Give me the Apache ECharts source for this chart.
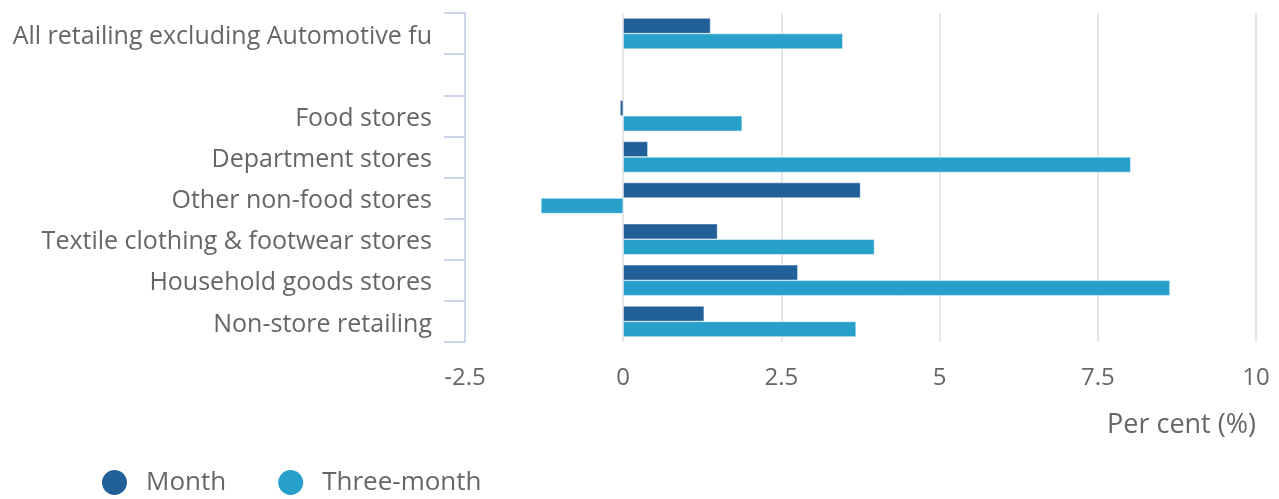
<!DOCTYPE html>
<html>
<head>
<meta charset="utf-8">
<script src="https://cdn.jsdelivr.net/npm/echarts@6/dist/echarts.min.js"></script>
<style>
html,body{margin:0;padding:0;background:#fff;}
#chart{width:1279px;height:499px;}
</style>
</head>
<body>
<div id="chart"></div>
<script>
const categories = [
  "All retailing excluding Automotive fu",
  "",
  "Food stores",
  "Department stores",
  "Other non-food stores",
  "Textile clothing & footwear stores",
  "Household goods stores",
  "Non-store retailing"
];
const monthValues = [1.38, null, -0.05, 0.39, 3.75, 1.49, 2.76, 1.28];
const threeMonthValues = [3.47, null, 1.88, 8.02, -1.30, 3.97, 8.64, 3.68];
const seriesNames = ["Month", "Three-month"];
const xTicks = { min: -2.5, max: 10, interval: 2.5 };
const xAxisTitle = "Per cent (%)";

const FONT = "Open Sans";
const chart = echarts.init(document.getElementById('chart'), null, {renderer: 'canvas'});
chart.setOption({
  animation: false,
  textStyle: { fontFamily: FONT },
  grid: { left: 465, right: 23, top: 13, bottom: 157, containLabel: false },
  legend: {
    left: 100, bottom: 2, padding: 0,
    icon: 'circle', itemWidth: 27, itemHeight: 27, itemGap: 50,
    textStyle: { fontFamily: FONT, fontSize: 26, color: '#666666', padding: [0, 0, 0, 13] },
    data: seriesNames
  },
  xAxis: {
    type: 'value',
    min: xTicks.min, max: xTicks.max, interval: xTicks.interval,
    axisLine: { show: false },
    axisTick: { show: false },
    splitLine: { show: true, lineStyle: { color: '#e6e6e6', width: 2 } },
    axisLabel: { fontFamily: FONT, fontSize: 24, color: '#666666', margin: 24 },
    name: xAxisTitle,
    nameLocation: 'end',
    nameGap: 0,
    nameTextStyle: { fontFamily: FONT, fontSize: 27, color: '#666666', align: 'right', verticalAlign: 'top', padding: [70, 0, 0, 0] }
  },
  yAxis: {
    type: 'category',
    data: categories,
    inverse: true,
    axisLine: { show: true, onZero: false, lineStyle: { color: '#ccd6eb', width: 2 } },
    axisTick: { show: true, length: 21, lineStyle: { color: '#ccd6eb', width: 2 } },
    axisLabel: {
      fontFamily: FONT, fontSize: 25, color: '#666666', margin: 33,
      formatter: function (v) { return '{a|' + v + '}'; },
      rich: { a: { fontFamily: FONT, fontSize: 25, color: '#666666', padding: [6, 0, 0, 0] } }
    },
    splitLine: { show: false }
  },
  series: [
    {
      name: seriesNames[0], type: 'bar', data: monthValues,
      barWidth: 15.5, barGap: '0%',
      itemStyle: { color: '#22609a', borderColor: '#ffffff', borderWidth: 0.5 }
    },
    {
      name: seriesNames[1], type: 'bar', data: threeMonthValues,
      barWidth: 15.5, barGap: '0%',
      itemStyle: { color: '#27a0cc', borderColor: '#ffffff', borderWidth: 0.5 }
    }
  ]
});
</script>
</body>
</html>
